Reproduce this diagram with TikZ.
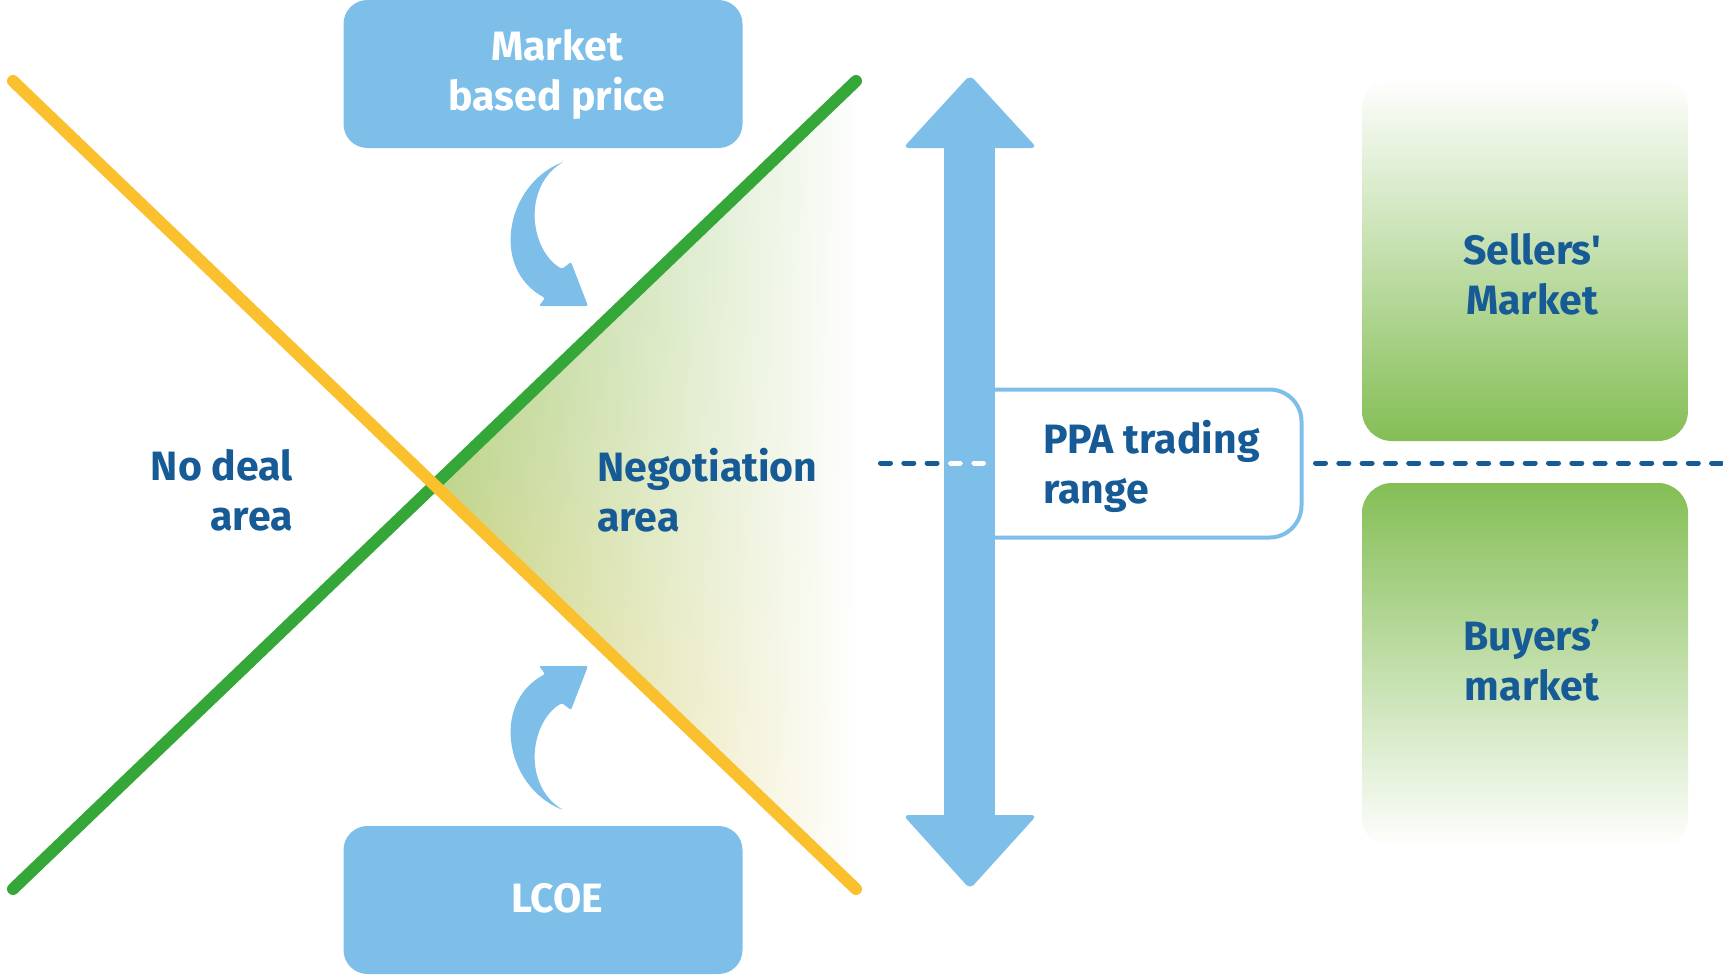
\documentclass[tikz,border=0pt]{standalone}
\usepackage{fontspec}
\setmainfont{Fira Sans}[Ligatures=TeXOff]
\usetikzlibrary{positioning,fadings}

\definecolor{boxblue}{HTML}{7DBFE8}
\definecolor{textblue}{HTML}{165A96}
\definecolor{linegreen}{HTML}{34A738}
\definecolor{lineyellow}{HTML}{FBC02D}
\definecolor{mktgreen}{HTML}{84BE55}
\definecolor{negtop}{HTML}{A6D08A}
\definecolor{negmid}{HTML}{C0D48A}
\definecolor{negbot}{HTML}{E6D477}

\tikzfading[name=negfade, left color=transparent!100,
  middle color=transparent!80, right color=transparent!0]

\tikzset{
  bigfont/.style={font=\fontsize{41}{50}\selectfont\bfseries},
  pricebox/.style={fill=boxblue, rounded corners=24pt, minimum width=399pt,
    minimum height=148pt, inner sep=0pt},
  boxtext/.style={text=white, align=center, inner sep=0pt, bigfont},
  areatext/.style={text=textblue, inner sep=0pt, bigfont},
  mktbox/.style={rounded corners=30pt, minimum width=326pt, inner sep=0pt},
  crossline/.style={line width=12pt, line cap=round},
  rangedash/.style={line width=5pt, line cap=round, dash pattern=on 10pt off 13.3pt},
  bendarrow/.style={fill=boxblue, rounded corners=2pt},
}

\begin{document}
\begin{tikzpicture}[x=1pt, y=-1pt]
  \useasboundingbox (0,0) rectangle (1723,975);

  % the two price lines
  \coordinate (ylo) at (13,81);
  \coordinate (yhi) at (856,889);
  \coordinate (glo) at (13,889);
  \coordinate (ghi) at (856,81);
  \coordinate (cross) at (intersection of ylo--yhi and glo--ghi);

  % negotiation area
  \fill[top color=negtop, bottom color=negbot, middle color=negmid]
    (cross) -- (ghi) -- (yhi) -- cycle;
  \fill[white, path fading=negfade] ([xshift=-1pt]cross) -- ([shift={(2,-3)}]ghi)
    -- ([shift={(2,3)}]yhi) -- cycle;

  \draw[crossline, linegreen] (glo) -- (ghi);
  \draw[crossline, lineyellow] (ylo) -- (yhi);

  % boxes top and bottom
  \node[pricebox] (mbp) at (543,74) {};
  \node[pricebox] (lcoe) at (543,900) {};
  \node[boxtext] (mbptxt) at ([xshift=14pt]mbp.center) {Market\\based price};
  \node[boxtext] (lcoetxt) at ([xshift=14pt, yshift=2pt]lcoe.center) {LCOE};

  % bent arrows
  \fill[bendarrow] (563,162) .. controls (506,185) and (490,268) .. (545,298)
    -- (539,306) -- (588,306) -- (571,262) -- (562,269)
    .. controls (530,250) and (522,188) .. (563,162) -- cycle;
  \fill[bendarrow] (563,810) .. controls (506,787) and (490,704) .. (545,674)
    -- (539,666) -- (588,666) -- (571,710) -- (562,703)
    .. controls (530,722) and (522,784) .. (563,810) -- cycle;

  % PPA trading range box
  \filldraw[draw=boxblue, fill=white, line width=4pt, rounded corners=32pt]
    (980,389.5) -- (1301.5,389.5) -- (1301.5,537.5) -- (980,537.5);
  \node[areatext, anchor=west, align=left] (ppa) at (1043,466) {PPA trading\\range};

  % double arrow
  \fill[boxblue] (944,148) -- (944,815) -- (995,815) -- (995,148) -- cycle;
  \fill[boxblue, rounded corners=6pt] (944,148) -- (903,148) -- (970,75)
    -- (1037,148) -- (995,148) -- cycle;
  \fill[boxblue, rounded corners=6pt] (944,815) -- (903,815) -- (970,889)
    -- (1037,815) -- (995,815) -- cycle;

  % dashed split line
  \coordinate (dla) at (880.5,463);
  \coordinate (dlb) at (990,463);
  \coordinate (dra) at (1315.5,463);
  \coordinate (drb) at (1723,463);
  \draw[rangedash, textblue] (dla) -- (dlb);
  \begin{scope}
    \clip (944,400) rectangle (995,520);
    \draw[rangedash, white] (dla) -- (dlb);
  \end{scope}
  \draw[rangedash, textblue] (dra) -- (drb);

  % market boxes
  \node[mktbox, minimum height=363pt, top color=white, bottom color=mktgreen]
    (sellers) at (1525,259.5) {};
  \node[mktbox, minimum height=365pt, top color=mktgreen, bottom color=white]
    (buyers) at (1525,665.5) {};
  \node[areatext, align=center] (sellerstxt) at (1532,274) {Sellers'\\Market};
  \node[areatext, align=center] (buyerstxt) at (1532,660) {Buyers’\\market};

  % area labels
  \node[areatext, anchor=east, align=right] (nodeal) at (293,490) {No deal\\area};
  \node[areatext, anchor=west, align=left] (negot) at (597,490) {Negotiation\\area};
\end{tikzpicture}
\end{document}
